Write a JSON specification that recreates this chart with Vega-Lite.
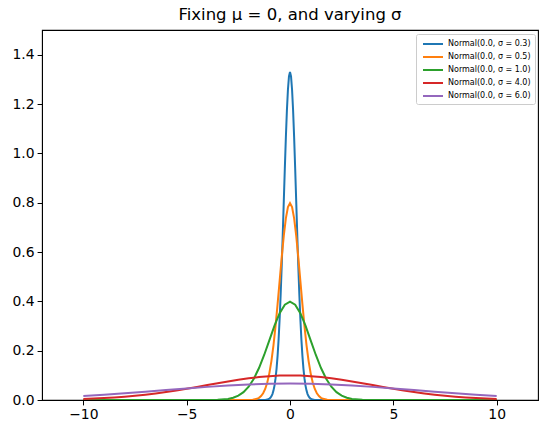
{
"$schema":"https://vega.github.io/schema/vega-lite/v6.json",
"width":496,"height":370,
"autosize":"none",
"padding":{"left":42,"top":30,"right":9,"bottom":34},
"background":"white",
"config":{"view":{"stroke":"black","strokeWidth":1.1},"font":"DejaVu Sans"},
"title":{"text":"Fixing μ = 0, and varying σ","font":"DejaVu Sans","fontSize":16.5,"fontWeight":"normal","color":"black","offset":7},
"data":{"values":[
{"s":"Normal(0.0, σ = 0.3)","x":-10,"y":0},
{"s":"Normal(0.0, σ = 0.3)","x":-1.5,"y":0},
{"s":"Normal(0.0, σ = 0.3)","x":-1.2,"y":0.0004},
{"s":"Normal(0.0, σ = 0.3)","x":-1.1,"y":0.0016},
{"s":"Normal(0.0, σ = 0.3)","x":-1.0,"y":0.0051},
{"s":"Normal(0.0, σ = 0.3)","x":-0.95,"y":0.0088},
{"s":"Normal(0.0, σ = 0.3)","x":-0.9,"y":0.0148},
{"s":"Normal(0.0, σ = 0.3)","x":-0.85,"y":0.0240},
{"s":"Normal(0.0, σ = 0.3)","x":-0.8,"y":0.0380},
{"s":"Normal(0.0, σ = 0.3)","x":-0.75,"y":0.0584},
{"s":"Normal(0.0, σ = 0.3)","x":-0.7,"y":0.0874},
{"s":"Normal(0.0, σ = 0.3)","x":-0.65,"y":0.1272},
{"s":"Normal(0.0, σ = 0.3)","x":-0.6,"y":0.1800},
{"s":"Normal(0.0, σ = 0.3)","x":-0.55,"y":0.2476},
{"s":"Normal(0.0, σ = 0.3)","x":-0.5,"y":0.3317},
{"s":"Normal(0.0, σ = 0.3)","x":-0.45,"y":0.4317},
{"s":"Normal(0.0, σ = 0.3)","x":-0.4,"y":0.5467},
{"s":"Normal(0.0, σ = 0.3)","x":-0.35,"y":0.6733},
{"s":"Normal(0.0, σ = 0.3)","x":-0.3,"y":0.8066},
{"s":"Normal(0.0, σ = 0.3)","x":-0.25,"y":0.9397},
{"s":"Normal(0.0, σ = 0.3)","x":-0.2,"y":1.0648},
{"s":"Normal(0.0, σ = 0.3)","x":-0.15,"y":1.1735},
{"s":"Normal(0.0, σ = 0.3)","x":-0.1,"y":1.2579},
{"s":"Normal(0.0, σ = 0.3)","x":-0.05,"y":1.3115},
{"s":"Normal(0.0, σ = 0.3)","x":0,"y":1.3298},
{"s":"Normal(0.0, σ = 0.3)","x":0.05,"y":1.3115},
{"s":"Normal(0.0, σ = 0.3)","x":0.1,"y":1.2579},
{"s":"Normal(0.0, σ = 0.3)","x":0.15,"y":1.1735},
{"s":"Normal(0.0, σ = 0.3)","x":0.2,"y":1.0648},
{"s":"Normal(0.0, σ = 0.3)","x":0.25,"y":0.9397},
{"s":"Normal(0.0, σ = 0.3)","x":0.3,"y":0.8066},
{"s":"Normal(0.0, σ = 0.3)","x":0.35,"y":0.6733},
{"s":"Normal(0.0, σ = 0.3)","x":0.4,"y":0.5467},
{"s":"Normal(0.0, σ = 0.3)","x":0.45,"y":0.4317},
{"s":"Normal(0.0, σ = 0.3)","x":0.5,"y":0.3317},
{"s":"Normal(0.0, σ = 0.3)","x":0.55,"y":0.2476},
{"s":"Normal(0.0, σ = 0.3)","x":0.6,"y":0.1800},
{"s":"Normal(0.0, σ = 0.3)","x":0.65,"y":0.1272},
{"s":"Normal(0.0, σ = 0.3)","x":0.7,"y":0.0874},
{"s":"Normal(0.0, σ = 0.3)","x":0.75,"y":0.0584},
{"s":"Normal(0.0, σ = 0.3)","x":0.8,"y":0.0380},
{"s":"Normal(0.0, σ = 0.3)","x":0.85,"y":0.0240},
{"s":"Normal(0.0, σ = 0.3)","x":0.9,"y":0.0148},
{"s":"Normal(0.0, σ = 0.3)","x":0.95,"y":0.0088},
{"s":"Normal(0.0, σ = 0.3)","x":1.0,"y":0.0051},
{"s":"Normal(0.0, σ = 0.3)","x":1.1,"y":0.0016},
{"s":"Normal(0.0, σ = 0.3)","x":1.2,"y":0.0004},
{"s":"Normal(0.0, σ = 0.3)","x":1.5,"y":0},
{"s":"Normal(0.0, σ = 0.3)","x":10,"y":0},

{"s":"Normal(0.0, σ = 0.5)","x":-10,"y":0},
{"s":"Normal(0.0, σ = 0.5)","x":-2.5,"y":0},
{"s":"Normal(0.0, σ = 0.5)","x":-2.0,"y":0.0003},
{"s":"Normal(0.0, σ = 0.5)","x":-1.8,"y":0.0012},
{"s":"Normal(0.0, σ = 0.5)","x":-1.6,"y":0.0048},
{"s":"Normal(0.0, σ = 0.5)","x":-1.5,"y":0.0089},
{"s":"Normal(0.0, σ = 0.5)","x":-1.4,"y":0.0158},
{"s":"Normal(0.0, σ = 0.5)","x":-1.3,"y":0.0272},
{"s":"Normal(0.0, σ = 0.5)","x":-1.2,"y":0.0448},
{"s":"Normal(0.0, σ = 0.5)","x":-1.1,"y":0.0709},
{"s":"Normal(0.0, σ = 0.5)","x":-1.0,"y":0.1080},
{"s":"Normal(0.0, σ = 0.5)","x":-0.9,"y":0.1579},
{"s":"Normal(0.0, σ = 0.5)","x":-0.8,"y":0.2218},
{"s":"Normal(0.0, σ = 0.5)","x":-0.7,"y":0.2995},
{"s":"Normal(0.0, σ = 0.5)","x":-0.6,"y":0.3884},
{"s":"Normal(0.0, σ = 0.5)","x":-0.5,"y":0.4839},
{"s":"Normal(0.0, σ = 0.5)","x":-0.4,"y":0.5794},
{"s":"Normal(0.0, σ = 0.5)","x":-0.3,"y":0.6665},
{"s":"Normal(0.0, σ = 0.5)","x":-0.2,"y":0.7365},
{"s":"Normal(0.0, σ = 0.5)","x":-0.1,"y":0.7821},
{"s":"Normal(0.0, σ = 0.5)","x":0,"y":0.7979},
{"s":"Normal(0.0, σ = 0.5)","x":0.1,"y":0.7821},
{"s":"Normal(0.0, σ = 0.5)","x":0.2,"y":0.7365},
{"s":"Normal(0.0, σ = 0.5)","x":0.3,"y":0.6665},
{"s":"Normal(0.0, σ = 0.5)","x":0.4,"y":0.5794},
{"s":"Normal(0.0, σ = 0.5)","x":0.5,"y":0.4839},
{"s":"Normal(0.0, σ = 0.5)","x":0.6,"y":0.3884},
{"s":"Normal(0.0, σ = 0.5)","x":0.7,"y":0.2995},
{"s":"Normal(0.0, σ = 0.5)","x":0.8,"y":0.2218},
{"s":"Normal(0.0, σ = 0.5)","x":0.9,"y":0.1579},
{"s":"Normal(0.0, σ = 0.5)","x":1.0,"y":0.1080},
{"s":"Normal(0.0, σ = 0.5)","x":1.1,"y":0.0709},
{"s":"Normal(0.0, σ = 0.5)","x":1.2,"y":0.0448},
{"s":"Normal(0.0, σ = 0.5)","x":1.3,"y":0.0272},
{"s":"Normal(0.0, σ = 0.5)","x":1.4,"y":0.0158},
{"s":"Normal(0.0, σ = 0.5)","x":1.5,"y":0.0089},
{"s":"Normal(0.0, σ = 0.5)","x":1.6,"y":0.0048},
{"s":"Normal(0.0, σ = 0.5)","x":1.8,"y":0.0012},
{"s":"Normal(0.0, σ = 0.5)","x":2.0,"y":0.0003},
{"s":"Normal(0.0, σ = 0.5)","x":2.5,"y":0},
{"s":"Normal(0.0, σ = 0.5)","x":10,"y":0},

{"s":"Normal(0.0, σ = 1.0)","x":-10,"y":0},
{"s":"Normal(0.0, σ = 1.0)","x":-5,"y":0},
{"s":"Normal(0.0, σ = 1.0)","x":-4,"y":0.0001},
{"s":"Normal(0.0, σ = 1.0)","x":-3.5,"y":0.0009},
{"s":"Normal(0.0, σ = 1.0)","x":-3.0,"y":0.0044},
{"s":"Normal(0.0, σ = 1.0)","x":-2.75,"y":0.0091},
{"s":"Normal(0.0, σ = 1.0)","x":-2.5,"y":0.0175},
{"s":"Normal(0.0, σ = 1.0)","x":-2.25,"y":0.0317},
{"s":"Normal(0.0, σ = 1.0)","x":-2.0,"y":0.0540},
{"s":"Normal(0.0, σ = 1.0)","x":-1.75,"y":0.0863},
{"s":"Normal(0.0, σ = 1.0)","x":-1.5,"y":0.1295},
{"s":"Normal(0.0, σ = 1.0)","x":-1.25,"y":0.1826},
{"s":"Normal(0.0, σ = 1.0)","x":-1.0,"y":0.2420},
{"s":"Normal(0.0, σ = 1.0)","x":-0.75,"y":0.3011},
{"s":"Normal(0.0, σ = 1.0)","x":-0.5,"y":0.3521},
{"s":"Normal(0.0, σ = 1.0)","x":-0.25,"y":0.3867},
{"s":"Normal(0.0, σ = 1.0)","x":0,"y":0.3989},
{"s":"Normal(0.0, σ = 1.0)","x":0.25,"y":0.3867},
{"s":"Normal(0.0, σ = 1.0)","x":0.5,"y":0.3521},
{"s":"Normal(0.0, σ = 1.0)","x":0.75,"y":0.3011},
{"s":"Normal(0.0, σ = 1.0)","x":1.0,"y":0.2420},
{"s":"Normal(0.0, σ = 1.0)","x":1.25,"y":0.1826},
{"s":"Normal(0.0, σ = 1.0)","x":1.5,"y":0.1295},
{"s":"Normal(0.0, σ = 1.0)","x":1.75,"y":0.0863},
{"s":"Normal(0.0, σ = 1.0)","x":2.0,"y":0.0540},
{"s":"Normal(0.0, σ = 1.0)","x":2.25,"y":0.0317},
{"s":"Normal(0.0, σ = 1.0)","x":2.5,"y":0.0175},
{"s":"Normal(0.0, σ = 1.0)","x":2.75,"y":0.0091},
{"s":"Normal(0.0, σ = 1.0)","x":3.0,"y":0.0044},
{"s":"Normal(0.0, σ = 1.0)","x":3.5,"y":0.0009},
{"s":"Normal(0.0, σ = 1.0)","x":4,"y":0.0001},
{"s":"Normal(0.0, σ = 1.0)","x":5,"y":0},
{"s":"Normal(0.0, σ = 1.0)","x":10,"y":0},

{"s":"Normal(0.0, σ = 4.0)","x":-10,"y":0.0044},
{"s":"Normal(0.0, σ = 4.0)","x":-9.5,"y":0.0059},
{"s":"Normal(0.0, σ = 4.0)","x":-9,"y":0.0079},
{"s":"Normal(0.0, σ = 4.0)","x":-8.5,"y":0.0104},
{"s":"Normal(0.0, σ = 4.0)","x":-8,"y":0.0135},
{"s":"Normal(0.0, σ = 4.0)","x":-7.5,"y":0.0172},
{"s":"Normal(0.0, σ = 4.0)","x":-7,"y":0.0216},
{"s":"Normal(0.0, σ = 4.0)","x":-6.5,"y":0.0266},
{"s":"Normal(0.0, σ = 4.0)","x":-6,"y":0.0324},
{"s":"Normal(0.0, σ = 4.0)","x":-5.5,"y":0.0388},
{"s":"Normal(0.0, σ = 4.0)","x":-5,"y":0.0457},
{"s":"Normal(0.0, σ = 4.0)","x":-4.5,"y":0.0530},
{"s":"Normal(0.0, σ = 4.0)","x":-4,"y":0.0605},
{"s":"Normal(0.0, σ = 4.0)","x":-3.5,"y":0.0680},
{"s":"Normal(0.0, σ = 4.0)","x":-3,"y":0.0753},
{"s":"Normal(0.0, σ = 4.0)","x":-2.5,"y":0.0820},
{"s":"Normal(0.0, σ = 4.0)","x":-2,"y":0.0880},
{"s":"Normal(0.0, σ = 4.0)","x":-1.5,"y":0.0930},
{"s":"Normal(0.0, σ = 4.0)","x":-1,"y":0.0967},
{"s":"Normal(0.0, σ = 4.0)","x":-0.5,"y":0.0990},
{"s":"Normal(0.0, σ = 4.0)","x":0,"y":0.0997},
{"s":"Normal(0.0, σ = 4.0)","x":0.5,"y":0.0990},
{"s":"Normal(0.0, σ = 4.0)","x":1,"y":0.0967},
{"s":"Normal(0.0, σ = 4.0)","x":1.5,"y":0.0930},
{"s":"Normal(0.0, σ = 4.0)","x":2,"y":0.0880},
{"s":"Normal(0.0, σ = 4.0)","x":2.5,"y":0.0820},
{"s":"Normal(0.0, σ = 4.0)","x":3,"y":0.0753},
{"s":"Normal(0.0, σ = 4.0)","x":3.5,"y":0.0680},
{"s":"Normal(0.0, σ = 4.0)","x":4,"y":0.0605},
{"s":"Normal(0.0, σ = 4.0)","x":4.5,"y":0.0530},
{"s":"Normal(0.0, σ = 4.0)","x":5,"y":0.0457},
{"s":"Normal(0.0, σ = 4.0)","x":5.5,"y":0.0388},
{"s":"Normal(0.0, σ = 4.0)","x":6,"y":0.0324},
{"s":"Normal(0.0, σ = 4.0)","x":6.5,"y":0.0266},
{"s":"Normal(0.0, σ = 4.0)","x":7,"y":0.0216},
{"s":"Normal(0.0, σ = 4.0)","x":7.5,"y":0.0172},
{"s":"Normal(0.0, σ = 4.0)","x":8,"y":0.0135},
{"s":"Normal(0.0, σ = 4.0)","x":8.5,"y":0.0104},
{"s":"Normal(0.0, σ = 4.0)","x":9,"y":0.0079},
{"s":"Normal(0.0, σ = 4.0)","x":9.5,"y":0.0059},
{"s":"Normal(0.0, σ = 4.0)","x":10,"y":0.0044},

{"s":"Normal(0.0, σ = 6.0)","x":-10,"y":0.0166},
{"s":"Normal(0.0, σ = 6.0)","x":-9,"y":0.0216},
{"s":"Normal(0.0, σ = 6.0)","x":-8,"y":0.0273},
{"s":"Normal(0.0, σ = 6.0)","x":-7,"y":0.0337},
{"s":"Normal(0.0, σ = 6.0)","x":-6,"y":0.0403},
{"s":"Normal(0.0, σ = 6.0)","x":-5,"y":0.0470},
{"s":"Normal(0.0, σ = 6.0)","x":-4,"y":0.0532},
{"s":"Normal(0.0, σ = 6.0)","x":-3,"y":0.0587},
{"s":"Normal(0.0, σ = 6.0)","x":-2,"y":0.0629},
{"s":"Normal(0.0, σ = 6.0)","x":-1,"y":0.0656},
{"s":"Normal(0.0, σ = 6.0)","x":0,"y":0.0665},
{"s":"Normal(0.0, σ = 6.0)","x":1,"y":0.0656},
{"s":"Normal(0.0, σ = 6.0)","x":2,"y":0.0629},
{"s":"Normal(0.0, σ = 6.0)","x":3,"y":0.0587},
{"s":"Normal(0.0, σ = 6.0)","x":4,"y":0.0532},
{"s":"Normal(0.0, σ = 6.0)","x":5,"y":0.0470},
{"s":"Normal(0.0, σ = 6.0)","x":6,"y":0.0403},
{"s":"Normal(0.0, σ = 6.0)","x":7,"y":0.0337},
{"s":"Normal(0.0, σ = 6.0)","x":8,"y":0.0273},
{"s":"Normal(0.0, σ = 6.0)","x":9,"y":0.0216},
{"s":"Normal(0.0, σ = 6.0)","x":10,"y":0.0166}
]},
"mark":{"type":"line","strokeWidth":2,"clip":true},
"encoding":{
"x":{"field":"x","type":"quantitative","scale":{"domain":[-12,12],"nice":false,"zero":false},
"axis":{"title":null,"values":[-10,-5,0,5,10],"grid":false,"labelFont":"DejaVu Sans","labelFontSize":13.9,"labelColor":"black","tickColor":"black","domainColor":"black","tickSize":4.9,"labelPadding":3,"labelFlush":false}},
"y":{"field":"y","type":"quantitative","scale":{"domain":[0,1.5],"nice":false},
"axis":{"title":null,"values":[0,0.2,0.4,0.6,0.8,1.0,1.2,1.4],"format":".1f","grid":false,"labelFont":"DejaVu Sans","labelFontSize":13.9,"labelColor":"black","tickColor":"black","domainColor":"black","tickSize":4.9,"labelPadding":3,"labelFlush":false}},
"color":{"field":"s","type":"nominal",
"scale":{"domain":["Normal(0.0, σ = 0.3)","Normal(0.0, σ = 0.5)","Normal(0.0, σ = 1.0)","Normal(0.0, σ = 4.0)","Normal(0.0, σ = 6.0)"],"range":["#1f77b4","#ff7f0e","#2ca02c","#d62728","#9467bd"]},
"legend":{"title":null,"orient":"none","legendX":374,"legendY":4,"symbolType":"M-2,0H2","symbolSize":100,"symbolStrokeWidth":2,"labelFont":"DejaVu Sans","labelFontSize":8,"labelColor":"black","rowPadding":3,"strokeColor":"#cccccc","fillColor":"white","padding":4,"cornerRadius":2,"symbolOffset":7,"labelOffset":9}}
}
}
